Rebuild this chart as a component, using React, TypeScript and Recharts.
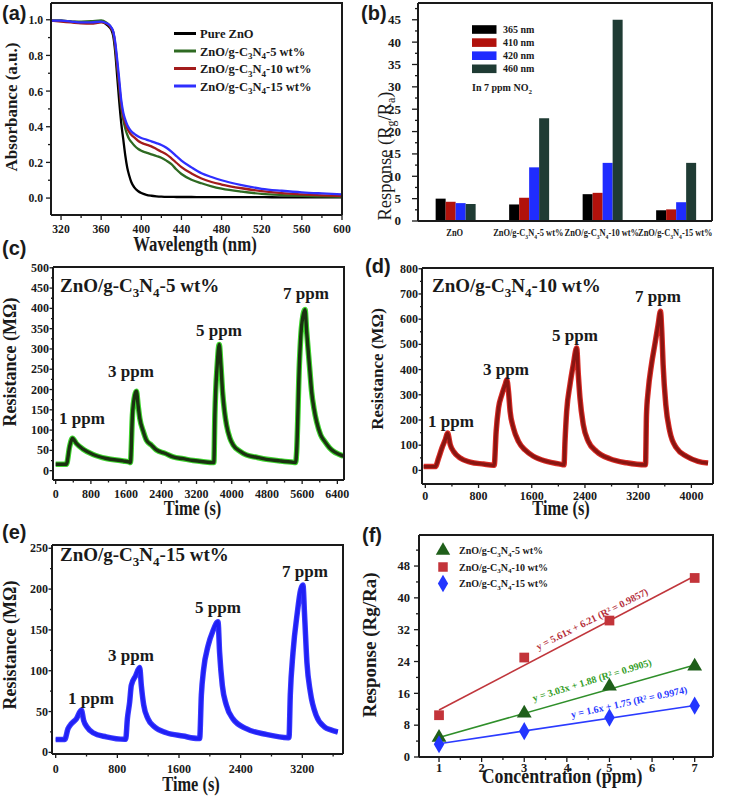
import React from 'react';
import { Bar, BarChart, ComposedChart, Line, LineChart, Scatter, Symbols, XAxis, YAxis, ZAxis } from 'recharts';

const SERIF = '"Liberation Serif", "Times New Roman", serif';
const SANS = '"Liberation Sans", Arial, sans-serif';
const INK = '#1a1a1a';
const FRAME = '#1a1a1a';

// (a) UV-vis absorbance
const waveNm = [310, 320, 330, 340, 350, 360, 365, 368, 370, 372, 374, 376, 378, 380, 382, 384, 386, 388, 390, 393, 397, 400, 405, 410, 415, 420, 425, 430, 435, 440, 450, 460, 470, 480, 500, 520, 540, 560, 580, 600];
const absZnO = [0.995, 0.995, 0.99, 0.985, 0.982, 0.99, 0.975, 0.96, 0.945, 0.91, 0.82, 0.68, 0.54, 0.42, 0.33, 0.24, 0.17, 0.125, 0.09, 0.06, 0.038, 0.028, 0.018, 0.013, 0.01, 0.008, 0.007, 0.007, 0.006, 0.006, 0.006, 0.005, 0.005, 0.005, 0.005, 0.005, 0.004, 0.004, 0.004, 0.004];
const absCN5 = [0.995, 0.995, 0.99, 0.99, 0.992, 0.997, 0.985, 0.97, 0.955, 0.93, 0.85, 0.74, 0.625, 0.51, 0.44, 0.39, 0.355, 0.33, 0.315, 0.295, 0.275, 0.265, 0.255, 0.245, 0.236, 0.226, 0.21, 0.19, 0.16, 0.135, 0.103, 0.083, 0.066, 0.053, 0.036, 0.024, 0.017, 0.012, 0.009, 0.007];
const absCN10 = [0.995, 0.99, 0.985, 0.98, 0.978, 0.985, 0.98, 0.968, 0.952, 0.93, 0.86, 0.75, 0.635, 0.525, 0.46, 0.42, 0.39, 0.37, 0.355, 0.34, 0.32, 0.31, 0.3, 0.29, 0.275, 0.26, 0.245, 0.223, 0.198, 0.173, 0.138, 0.11, 0.09, 0.076, 0.055, 0.039, 0.028, 0.021, 0.015, 0.011];
const absCN15 = [0.995, 0.995, 0.99, 0.985, 0.985, 0.99, 0.982, 0.972, 0.958, 0.935, 0.875, 0.775, 0.665, 0.55, 0.48, 0.44, 0.41, 0.39, 0.375, 0.36, 0.345, 0.337, 0.328, 0.318, 0.308, 0.298, 0.282, 0.26, 0.235, 0.21, 0.172, 0.139, 0.118, 0.1, 0.073, 0.052, 0.041, 0.032, 0.026, 0.021];
const aXMajor = [320, 360, 400, 440, 480, 520, 560, 600];
const aXMinor = [340, 380, 420, 460, 500, 540, 580];
const aYMajor = [0, 0.2, 0.4, 0.6, 0.8, 1.0];
const aYMinor = [0.1, 0.3, 0.5, 0.7, 0.9];

// (b) response under different wavelengths, 7 ppm NO2
const samples = ['ZnO', 'ZnO/g-C3N4-5 wt%', 'ZnO/g-C3N4-10 wt%', 'ZnO/g-C3N4-15 wt%'];
const r365 = [5.0, 3.7, 6.0, 2.4];
const r410 = [4.3, 5.2, 6.3, 2.6];
const r420 = [4.0, 12.0, 13.0, 4.2];
const r460 = [3.8, 23.0, 45.0, 13.0];
const bYMajor = [0, 5, 10, 15, 20, 25, 30, 35, 40, 45];
const bYMinor = [2.5, 7.5, 12.5, 17.5, 22.5, 27.5, 32.5, 37.5, 42.5, 47.5];

// (c) 5 wt% dynamic resistance
const timeC = [0, 243, 318, 379, 470, 622, 849, 1153, 1532, 1683, 1698, 1744, 1797, 1835, 1873, 1911, 1987, 2063, 2176, 2290, 2480, 2669, 2897, 3124, 3352, 3579, 3594, 3617, 3670, 3716, 3754, 3792, 3837, 3883, 3959, 4034, 4186, 4338, 4565, 4792, 5096, 5399, 5452, 5475, 5536, 5589, 5665, 5703, 5740, 5778, 5816, 5869, 5930, 6021, 6120, 6218, 6309, 6423, 6537];
const resC = [16, 16, 60, 80, 67, 53, 40, 30, 24, 21, 20, 137, 186, 196, 161, 129, 98, 75, 63, 51, 43, 34, 29.5, 25, 22, 20, 20, 137, 260, 311, 260, 194, 145, 112, 80, 63, 48, 38.5, 33, 28, 24, 20.5, 20, 47, 260, 358, 397, 342, 293, 243, 194, 153, 120, 88, 71, 57, 48, 41, 36];
const cXMajor = [0, 800, 1600, 2400, 3200, 4000, 4800, 5600, 6400];
const cXMinor = [400, 1200, 2000, 2800, 3600, 4400, 5200, 6000];
const cYMajor = [0, 50, 100, 150, 200, 250, 300, 350, 400, 450, 500];
const cYMinor = [25, 75, 125, 175, 225, 275, 325, 375, 425, 475];

// (d) 10 wt% dynamic resistance
const timeD = [-25, 150, 200, 250, 300, 335, 375, 425, 525, 675, 875, 1025, 1035, 1065, 1100, 1150, 1200, 1225, 1250, 1275, 1325, 1400, 1500, 1625, 1825, 2025, 2085, 2100, 2125, 2175, 2225, 2275, 2300, 2325, 2375, 2450, 2575, 2775, 3025, 3310, 3325, 3350, 3400, 3450, 3500, 3535, 3555, 3575, 3615, 3675, 3775, 3925, 4100, 4250];
const resD = [15, 15, 49, 89, 122, 148, 102, 75, 49, 33, 25, 20, 20, 155, 247, 300, 340, 360, 314, 234, 168, 115, 81, 56, 36, 25, 22, 115, 234, 340, 420, 486, 380, 287, 181, 115, 75, 46, 30, 22, 221, 314, 420, 499, 578, 631, 552, 420, 261, 155, 89, 56, 36, 29];
const dXMajor = [0, 800, 1600, 2400, 3200, 4000];
const dXMinor = [400, 1200, 2000, 2800, 3600];
const dYMajor = [0, 100, 200, 300, 400, 500, 600, 700, 800];
const dYMinor = [50, 150, 250, 350, 450, 550, 650, 750];

// (e) 15 wt% dynamic resistance
const timeE = [0, 117, 160, 203, 268, 333, 363, 406, 484, 657, 895, 908, 930, 960, 981, 1038, 1090, 1111, 1142, 1198, 1284, 1436, 1652, 1846, 1868, 1890, 1920, 1976, 2041, 2106, 2127, 2162, 2214, 2300, 2473, 2733, 3014, 3027, 3044, 3079, 3135, 3178, 3208, 3230, 3260, 3304, 3381, 3490, 3570, 3660];
const resE = [15.8, 15.8, 29, 35, 41, 52, 39, 31, 24, 19, 16, 16, 41, 62, 82, 94, 104, 82, 58, 41, 31, 24, 20, 17, 17, 70, 102, 130, 149, 160, 122, 82, 58, 41, 29, 22, 18, 18, 70, 122, 171, 199, 205, 167, 110, 74, 45, 31, 27.5, 25];
const eXMajor = [0, 800, 1600, 2400, 3200];
const eXMinor = [400, 1200, 2000, 2800, 3600];
const eYMajor = [0, 50, 100, 150, 200, 250];
const eYMinor = [25, 75, 125, 175, 225];

// (f) response vs concentration
const concPpm = [1, 3, 5, 7];
const resp5 = [4.9, 11.0, 17.8, 22.8];
const resp10 = [10.5, 25.0, 34.3, 45.0];
const resp15 = [3.2, 6.5, 9.9, 12.9];
const fitEnds = [1, 7];
const fit5 = [4.9, 23.1];
const fit10 = [11.8, 45.5];
const fit15 = [3.35, 12.95];
const fXMajor = [1, 2, 3, 4, 5, 6, 7];
const fXMinor = [1.5, 2.5, 3.5, 4.5, 5.5, 6.5];
const fYMajor = [0, 8, 16, 24, 32, 40, 48];
const fYMinor = [4, 12, 20, 28, 36, 44, 52];

// plot boxes (left, top, right, bottom) of the six panels, page pixels
type Box = [number, number, number, number];
const boxA: Box = [51, 3, 342, 215];
const boxB: Box = [418, 3, 712, 221];
const boxC: Box = [53, 267, 344, 480];
const boxD: Box = [422, 268, 713, 484];
const boxE: Box = [52, 545, 343, 754];
const boxF: Box = [419, 535, 713, 757];

const YW = 44;
const XH = 30;
function place([l, t, r, b]: Box) {
  const margin = { left: 6, top: 6, right: 10, bottom: 10 };
  return {
    style: { position: 'absolute' as const, left: l - YW - 6, top: t - 6 },
    width: r - l + YW + 16,
    height: b - t + XH + 16,
    margin,
  };
}

type TickSpec = { majors: number[]; fmt: (v: number) => string; len: number; minor: number; gap: number; fs: number; sx?: number };
const isIn = (arr: number[], v: number) => arr.some((m) => Math.abs(m - v) < 1e-6);

function bottomTick(s: TickSpec) {
  return (p: any) => {
    const v = p.payload.value;
    const major = isIn(s.majors, v);
    return (
      <g>
        <line x1={p.x} x2={p.x} y1={p.y} y2={p.y + (major ? s.len : s.minor)} stroke={FRAME} strokeWidth={1.3} />
        {major && (
          <text transform={`translate(${p.x},${p.y + s.gap}) scale(${s.sx ?? 1},1)`} textAnchor="middle" fontFamily={SERIF} fontWeight={700} fontSize={s.fs} fill={INK}>
            {s.fmt(v)}
          </text>
        )}
      </g>
    );
  };
}

function leftTick(s: TickSpec) {
  return (p: any) => {
    const v = p.payload.value;
    const major = isIn(s.majors, v);
    return (
      <g>
        <line x1={p.x - (major ? s.len : s.minor)} x2={p.x} y1={p.y} y2={p.y} stroke={FRAME} strokeWidth={1.3} />
        {major && (
          <text transform={`translate(${p.x - s.gap},${p.y + s.fs * 0.34}) scale(${s.sx ?? 1},1)`} textAnchor="end" fontFamily={SERIF} fontWeight={700} fontSize={s.fs} fill={INK}>
            {s.fmt(v)}
          </text>
        )}
      </g>
    );
  };
}

function chem(tail: string, fs: number) {
  const d = fs * 0.28;
  const s = Math.round(fs * 0.68);
  return (
    <>
      ZnO/g-C<tspan dy={d} fontSize={s}>3</tspan>
      <tspan dy={-d}>N</tspan>
      <tspan dy={d} fontSize={s}>4</tspan>
      <tspan dy={-d}>{tail}</tspan>
    </>
  );
}

function label(name: string, fs: number) {
  return name.startsWith('ZnO/g-C3N4') ? chem(name.slice(10), fs) : name;
}

const axisLine = { stroke: FRAME, strokeWidth: 2 };
const num = (v: number) => String(v);
const fix1 = (v: number) => v.toFixed(1);

function PanelA() {
  const p = place(boxA);
  const data = waveNm.map((w, i) => ({ w, zno: absZnO[i], cn5: absCN5[i], cn10: absCN10[i], cn15: absCN15[i] }));
  return (
    <div style={p.style}>
      <LineChart width={p.width} height={p.height} margin={p.margin} data={data}>
        <XAxis dataKey="w" type="number" domain={[310, 600]} allowDataOverflow ticks={[...aXMajor, ...aXMinor]} interval={0} height={XH} tickSize={0} tickMargin={0} tickLine={false} axisLine={axisLine}
          tick={bottomTick({ majors: aXMajor, fmt: num, len: 5, minor: 3, gap: 18, fs: 13, sx: 0.9 })} />
        <YAxis type="number" domain={[-0.095, 1.094]} allowDataOverflow ticks={[...aYMajor, ...aYMinor]} interval={0} width={YW} tickSize={0} tickMargin={0} tickLine={false} axisLine={axisLine}
          tick={leftTick({ majors: aYMajor, fmt: fix1, len: 5, minor: 3, gap: 8, fs: 13, sx: 0.9 })} />
        <Line type="monotone" dataKey="zno" stroke="#000000" strokeWidth={2.3} dot={false} isAnimationActive={false} />
        <Line type="monotone" dataKey="cn5" stroke="#2e6a22" strokeWidth={2.3} dot={false} isAnimationActive={false} />
        <Line type="monotone" dataKey="cn10" stroke="#a31c1c" strokeWidth={2.3} dot={false} isAnimationActive={false} />
        <Line type="monotone" dataKey="cn15" stroke="#2f2fff" strokeWidth={2.3} dot={false} isAnimationActive={false} />
      </LineChart>
    </div>
  );
}

function catTick(p: any) {
  return (
    <text transform={`translate(${p.x},${p.y + 15}) scale(0.8,1)`} textAnchor="middle" fontFamily={SERIF} fontWeight={700} fontSize={10.5} fill={INK}>
      {label(p.payload.value, 10.5)}
    </text>
  );
}

function PanelB() {
  const p = place(boxB);
  const data = samples.map((name, i) => ({ name, a: r365[i], b: r410[i], c: r420[i], d: r460[i] }));
  return (
    <div style={p.style}>
      <BarChart width={p.width} height={p.height} margin={p.margin} data={data} barCategoryGap="24%" barGap={0}>
        <XAxis dataKey="name" type="category" interval={0} height={XH} tickSize={0} tickMargin={0} tickLine={false} axisLine={axisLine} tick={catTick} />
        <YAxis type="number" domain={[0, 48.75]} allowDataOverflow ticks={[...bYMajor, ...bYMinor]} interval={0} width={YW} tickSize={0} tickMargin={0} tickLine={false} axisLine={axisLine}
          tick={leftTick({ majors: bYMajor, fmt: num, len: 6, minor: 3, gap: 17, fs: 13, sx: 1 })} />
        <Bar dataKey="a" fill="#000000" isAnimationActive={false} />
        <Bar dataKey="b" fill="#b1120c" isAnimationActive={false} />
        <Bar dataKey="c" fill="#1f2cff" isAnimationActive={false} />
        <Bar dataKey="d" fill="#1f3b34" isAnimationActive={false} />
      </BarChart>
    </div>
  );
}

type SeriesPanel = {
  box: Box;
  times: number[];
  values: number[];
  xd: [number, number];
  yd: [number, number];
  xMaj: number[];
  xMin: number[];
  yMaj: number[];
  yMin: number[];
  xGap: number;
  yGap: number;
  outer: string;
  inner: string;
};

function TransientPanel({ s }: { s: SeriesPanel }) {
  const p = place(s.box);
  const data = s.times.map((t, i) => ({ t, r: s.values[i] }));
  return (
    <div style={p.style}>
      <LineChart width={p.width} height={p.height} margin={p.margin} data={data}>
        <XAxis dataKey="t" type="number" domain={s.xd} allowDataOverflow ticks={[...s.xMaj, ...s.xMin]} interval={0} height={XH} tickSize={0} tickMargin={0} tickLine={false} axisLine={axisLine}
          tick={bottomTick({ majors: s.xMaj, fmt: num, len: 4, minor: 2.5, gap: s.xGap, fs: 12 })} />
        <YAxis type="number" domain={s.yd} allowDataOverflow ticks={[...s.yMaj, ...s.yMin]} interval={0} width={YW} tickSize={0} tickMargin={0} tickLine={false} axisLine={axisLine}
          tick={leftTick({ majors: s.yMaj, fmt: num, len: 3.5, minor: 2, gap: s.yGap, fs: 12 })} />
        <Line type="monotone" dataKey="r" stroke={s.outer} strokeWidth={5.5} dot={false} isAnimationActive={false} />
        <Line type="monotone" dataKey="r" stroke={s.inner} strokeWidth={3.4} dot={false} isAnimationActive={false} />
      </LineChart>
    </div>
  );
}

function PanelF() {
  const p = place(boxF);
  const pts = (ys: number[]) => concPpm.map((x, i) => ({ x, y: ys[i] }));
  const fit = (ys: number[]) => fitEnds.map((x, i) => ({ x, y: ys[i] }));
  return (
    <div style={p.style}>
      <ComposedChart width={p.width} height={p.height} margin={p.margin}>
        <XAxis dataKey="x" type="number" domain={[0.53, 7.43]} allowDataOverflow ticks={[...fXMajor, ...fXMinor]} interval={0} height={XH} tickSize={0} tickMargin={0} tickLine={false} axisLine={axisLine}
          tick={bottomTick({ majors: fXMajor, fmt: num, len: 5, minor: 3, gap: 15, fs: 12.5 })} />
        <YAxis dataKey="y" type="number" domain={[0, 55.8]} allowDataOverflow ticks={[...fYMajor, ...fYMinor]} interval={0} width={YW} tickSize={0} tickMargin={0} tickLine={false} axisLine={axisLine}
          tick={leftTick({ majors: fYMajor, fmt: num, len: 5, minor: 3, gap: 9, fs: 12.5 })} />
        <ZAxis type="number" range={[95, 95]} />
        <Line data={fit(fit10)} dataKey="y" stroke="#c0363c" strokeWidth={1.6} dot={false} isAnimationActive={false} />
        <Line data={fit(fit5)} dataKey="y" stroke="#2f8f2a" strokeWidth={1.6} dot={false} isAnimationActive={false} />
        <Line data={fit(fit15)} dataKey="y" stroke="#2b3bff" strokeWidth={1.6} dot={false} isAnimationActive={false} />
        <Scatter data={pts(resp10)} dataKey="y" shape="square" fill="#c3343a" isAnimationActive={false} />
        <Scatter data={pts(resp5)} dataKey="y" shape="triangle" fill="#1f5f1a" isAnimationActive={false} />
        <Scatter data={pts(resp15)} dataKey="y" shape="diamond" fill="#2336ff" isAnimationActive={false} />
      </ComposedChart>
    </div>
  );
}

type TxtProps = { x: number; y: number; fs: number; children: React.ReactNode; anchor?: 'start' | 'middle' | 'end'; bold?: boolean; rot?: number; sx?: number; fill?: string; family?: string };
function Txt({ x, y, fs, children, anchor = 'start', bold = true, rot = 0, sx = 1, fill = INK, family = SERIF }: TxtProps) {
  return (
    <text transform={`translate(${x},${y}) rotate(${rot}) scale(${sx},1)`} fontSize={fs} fontWeight={bold ? 700 : 400} fontFamily={family} textAnchor={anchor} fill={fill}>
      {children}
    </text>
  );
}

const aLegend = [
  { name: 'Pure ZnO', color: '#000000' },
  { name: 'ZnO/g-C3N4-5 wt%', color: '#2e6a22' },
  { name: 'ZnO/g-C3N4-10 wt%', color: '#a31c1c' },
  { name: 'ZnO/g-C3N4-15 wt%', color: '#2f2fff' },
];
const bLegend = [
  { name: '365 nm', color: '#000000' },
  { name: '410 nm', color: '#b1120c' },
  { name: '420 nm', color: '#1f2cff' },
  { name: '460 nm', color: '#1f3b34' },
];
const fLegend = [
  { name: 'ZnO/g-C3N4-5 wt%', color: '#1f5f1a', type: 'triangle' as const },
  { name: 'ZnO/g-C3N4-10 wt%', color: '#c3343a', type: 'square' as const },
  { name: 'ZnO/g-C3N4-15 wt%', color: '#2336ff', type: 'diamond' as const },
];

function Overlay() {
  const ppm = { fs: 17 };
  return (
    <svg width={738} height={797} style={{ position: 'absolute', left: 0, top: 0, pointerEvents: 'none' }}>
      {/* closed plot frames */}
      {[boxA, boxB, boxC, boxD, boxE, boxF].map(([l, t, r, b], i) => (
        <path key={i} d={`M${l},${t}H${r}V${b}`} fill="none" stroke={FRAME} strokeWidth={2} />
      ))}

      {/* panel letters */}
      <Txt x={2} y={20} fs={20} family={SANS}>(a)</Txt>
      <Txt x={361} y={20} fs={20} family={SANS}>(b)</Txt>
      <Txt x={2} y={255} fs={20} family={SANS}>(c)</Txt>
      <Txt x={365} y={273} fs={20} family={SANS}>(d)</Txt>
      <Txt x={2} y={539} fs={20} family={SANS}>(e)</Txt>
      <Txt x={362} y={542} fs={20} family={SANS}>(f)</Txt>

      {/* (a) */}
      <Txt x={17} y={107} fs={17} anchor="middle" rot={-90}>Absorbance (a.u.)</Txt>
      <Txt x={195} y={251} fs={20} anchor="middle" sx={0.84}>Wavelength (nm)</Txt>
      {aLegend.map((e, i) => (
        <g key={e.name}>
          <line x1={174} x2={196} y1={33.5 + i * 17.5} y2={33.5 + i * 17.5} stroke={e.color} strokeWidth={3} />
          <Txt x={200} y={38 + i * 17.5} fs={12.5}>{label(e.name, 12.5)}</Txt>
        </g>
      ))}

      {/* (b) */}
      <Txt x={391} y={156} fs={18.5} anchor="middle" rot={-90} bold={false}>
        Response (R<tspan dy={4} fontSize={12}>g</tspan><tspan dy={-4}>/R</tspan><tspan dy={4} fontSize={12}>a</tspan><tspan dy={-4}>)</tspan>
      </Txt>
      {bLegend.map((e, i) => (
        <g key={e.name}>
          <rect x={472} y={25.2 + i * 13.1} width={24.5} height={8.6} fill={e.color} />
          <Txt x={503} y={33 + i * 13.1} fs={10}>{e.name}</Txt>
        </g>
      ))}
      <Txt x={472} y={91} fs={10}>
        In 7 ppm NO<tspan dy={2.5} fontSize={7}>2</tspan>
      </Txt>

      {/* (c) */}
      <Txt x={16} y={362} fs={18} anchor="middle" rot={-90}>Resistance (MΩ)</Txt>
      <Txt x={192.5} y={515} fs={21} anchor="middle" sx={0.78}>Time (s)</Txt>
      <Txt x={60} y={292} fs={19}>{chem('-5 wt%', 19)}</Txt>
      <Txt x={59} y={424} fs={ppm.fs}>1 ppm</Txt>
      <Txt x={108} y={377} fs={ppm.fs}>3 ppm</Txt>
      <Txt x={196} y={336} fs={ppm.fs}>5 ppm</Txt>
      <Txt x={283} y={299} fs={ppm.fs}>7 ppm</Txt>

      {/* (d) */}
      <Txt x={383} y={369} fs={17} anchor="middle" rot={-90}>Resistance (MΩ)</Txt>
      <Txt x={561} y={515} fs={21} anchor="middle" sx={0.78}>Time (s)</Txt>
      <Txt x={432} y={292} fs={19}>{chem('-10 wt%', 19)}</Txt>
      <Txt x={428} y={427} fs={ppm.fs}>1 ppm</Txt>
      <Txt x={483} y={375} fs={ppm.fs}>3 ppm</Txt>
      <Txt x={552} y={341} fs={ppm.fs}>5 ppm</Txt>
      <Txt x={635} y={302} fs={ppm.fs}>7 ppm</Txt>

      {/* (e) */}
      <Txt x={16} y={645} fs={18} anchor="middle" rot={-90}>Resistance (MΩ)</Txt>
      <Txt x={191} y={791} fs={21} anchor="middle" sx={0.78}>Time (s)</Txt>
      <Txt x={60} y={561} fs={19}>{chem('-15 wt%', 19)}</Txt>
      <Txt x={68} y={704} fs={ppm.fs}>1 ppm</Txt>
      <Txt x={108} y={661} fs={ppm.fs}>3 ppm</Txt>
      <Txt x={195} y={613} fs={ppm.fs}>5 ppm</Txt>
      <Txt x={282} y={577} fs={ppm.fs}>7 ppm</Txt>

      {/* (f) */}
      <Txt x={376} y={645} fs={19} anchor="middle" rot={-90}>Response (Rg/Ra)</Txt>
      <Txt x={562} y={783} fs={20} anchor="middle" sx={0.89}>Concentration (ppm)</Txt>
      {fLegend.map((e, i) => (
        <g key={e.name}>
          <Symbols cx={443} cy={550.5 + i * 16.5} type={e.type} size={90} fill={e.color} />
          <Txt x={459} y={554 + i * 16.5} fs={10}>{label(e.name, 10)}</Txt>
        </g>
      ))}
      <g transform="translate(592,619) rotate(-27)">
        <Txt x={0} y={3.5} fs={10} anchor="middle" fill="#b5303c">y = 5.61x + 6.21 (R² = 0.9857)</Txt>
      </g>
      <g transform="translate(592,680) rotate(-17)">
        <Txt x={0} y={3.5} fs={10} anchor="middle" fill="#36a02a">y = 3.03x + 1.88 (R² = 0.9905)</Txt>
      </g>
      <g transform="translate(629,702) rotate(-12.3)">
        <Txt x={0} y={3.5} fs={10} anchor="middle" fill="#2b3bff">y = 1.6x + 1.75 (R² = 0.9974)</Txt>
      </g>
    </svg>
  );
}

const panelC: SeriesPanel = {
  box: boxC, times: timeC, values: resC, xd: [-61, 6551], yd: [-23, 502],
  xMaj: cXMajor, xMin: cXMinor, yMaj: cYMajor, yMin: cYMinor, xGap: 18, yGap: 4, outer: '#3fd52f', inner: '#1a3210',
};
const panelD: SeriesPanel = {
  box: boxD, times: timeD, values: resD, xd: [-50, 4325], yd: [-54, 803],
  xMaj: dXMajor, xMin: dXMinor, yMaj: dYMajor, yMin: dYMinor, xGap: 16, yGap: 4, outer: '#d92b25', inner: '#8a1511',
};
const panelE: SeriesPanel = {
  box: boxE, times: timeE, values: resE, xd: [-48, 3728], yd: [-2, 254],
  xMaj: eXMajor, xMin: eXMinor, yMaj: eYMajor, yMin: eYMinor, xGap: 19, yGap: 4, outer: '#3a3aff', inner: '#2020f5',
};

export default function App() {
  return (
    <div style={{ position: 'absolute', left: 0, top: 0, width: 738, height: 797, background: '#ffffff', overflow: 'hidden' }}>
      <PanelA />
      <PanelB />
      <TransientPanel s={panelC} />
      <TransientPanel s={panelD} />
      <TransientPanel s={panelE} />
      <PanelF />
      <Overlay />
    </div>
  );
}
